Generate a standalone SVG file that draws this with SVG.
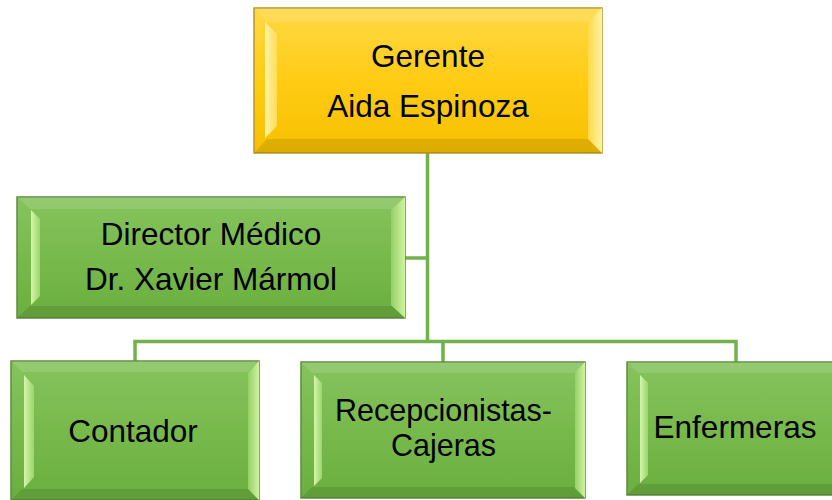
<svg xmlns="http://www.w3.org/2000/svg" width="832" height="500" viewBox="0 0 832 500">
<defs>
<linearGradient id="gGold" x1="0" y1="0" x2="0" y2="1">
<stop offset="0" stop-color="#FFD845"/><stop offset="0.5" stop-color="#FFCC14"/><stop offset="1" stop-color="#F7C000"/>
</linearGradient>
<linearGradient id="gGreen" x1="0" y1="0" x2="0" y2="1">
<stop offset="0" stop-color="#86C35E"/><stop offset="0.5" stop-color="#78B94C"/><stop offset="1" stop-color="#6BAF40"/>
</linearGradient>
<linearGradient id="gGoldLight" x1="0" y1="0" x2="1" y2="0">
<stop offset="0" stop-color="#FFF3A8"/><stop offset="1" stop-color="#FFDD55"/>
</linearGradient>
<linearGradient id="gGreenLight" x1="0" y1="0" x2="1" y2="0">
<stop offset="0" stop-color="#D4F6A8"/><stop offset="1" stop-color="#9BD56E"/>
</linearGradient>
<linearGradient id="gGoldLightR" x1="1" y1="0" x2="0" y2="0">
<stop offset="0" stop-color="#FFF3A8"/><stop offset="1" stop-color="#FFDA48"/>
</linearGradient>
<linearGradient id="gGreenLightR" x1="1" y1="0" x2="0" y2="0">
<stop offset="0" stop-color="#CFF3A0"/><stop offset="1" stop-color="#95D066"/>
</linearGradient>
</defs>
<style>
.gold{fill:url(#gGold);stroke:#B8972E;stroke-width:1.5}
.green{fill:url(#gGreen);stroke:#5D8C3B;stroke-width:1.5}
.top{fill:#ffffff;fill-opacity:0.12}
.bot{fill:#000000;fill-opacity:0.10}
.gl{fill:url(#gGoldLight)}
.glr{fill:url(#gGoldLightR)}
.nl{fill:url(#gGreenLight)}
.nlr{fill:url(#gGreenLightR)}
.lbl{font-family:"Liberation Sans",Arial,sans-serif;font-size:31.5px;fill:#000;text-anchor:middle}
.tight{font-size:30.5px}
.conn{fill:none;stroke:#72B14C;stroke-width:3.5}
</style>

<g id="connectors">
<path class="conn" d="M427.5,153 V341.5"/>
<path class="conn" d="M405,258 H427.5"/>
<path class="conn" d="M135,361 V341.5 H736 V362"/>
<path class="conn" d="M443,341.5 V362"/>
</g>

<g id="gerente">
<rect class="gold" x="254" y="8" width="348" height="145"/>
<polygon class="top" points="254,8 602,8 589,22 267,22"/>
<polygon class="bot" points="254,153 602,153 589,139 267,139"/>
<polygon class="gl" points="265,22 277,34 277,126 265,138"/>
<polygon class="glr" points="602,8 602,153 588,139 588,22"/>
<text class="lbl" x="428" y="67">Gerente</text>
<text class="lbl" x="428" y="117">Aida Espinoza</text>
</g>

<g id="director">
<rect class="green" x="17" y="197" width="388" height="121"/>
<polygon class="top" points="17,197 405,197 392,209 30,209"/>
<polygon class="bot" points="17,318 405,318 392,306 30,306"/>
<polygon class="nl" points="31,210 40,219 40,296 31,305"/>
<polygon class="nlr" points="405,197 405,318 391,305 391,210"/>
<text class="lbl" x="211" y="245">Director Médico</text>
<text class="lbl" x="211" y="290">Dr. Xavier Mármol</text>
</g>

<g id="contador">
<rect class="green" x="11" y="361" width="248" height="139"/>
<polygon class="top" points="11,361 259,361 248,372 22,372"/>
<polygon class="bot" points="11,500 259,500 248,489 22,489"/>
<polygon class="nl" points="24,375 34,386 34,477 24,488"/>
<polygon class="nlr" points="259,361 259,500 248,489 248,373"/>
<text class="lbl" x="133" y="441.5">Contador</text>
</g>

<g id="recepcionistas">
<rect class="green" x="301" y="362" width="284" height="136"/>
<polygon class="top" points="301,362 585,362 574,373 312,373"/>
<polygon class="bot" points="301,498 585,498 574,487 312,487"/>
<polygon class="nl" points="314,375 322,383 322,478 314,486"/>
<polygon class="nlr" points="585,362 585,498 575,488 575,372"/>
<text class="lbl tight" x="443.5" y="421">Recepcionistas-</text>
<text class="lbl tight" x="443.5" y="456">Cajeras</text>
</g>

<g id="enfermeras">
<rect class="green" x="627" y="362" width="216" height="133"/>
<polygon class="top" points="627,362 843,362 832,373 638,373"/>
<polygon class="bot" points="627,495 843,495 832,484 638,484"/>
<polygon class="nl" points="640,375 648,383 648,475 640,483"/>
<text class="lbl" x="735" y="438">Enfermeras</text>
</g>
</svg>
